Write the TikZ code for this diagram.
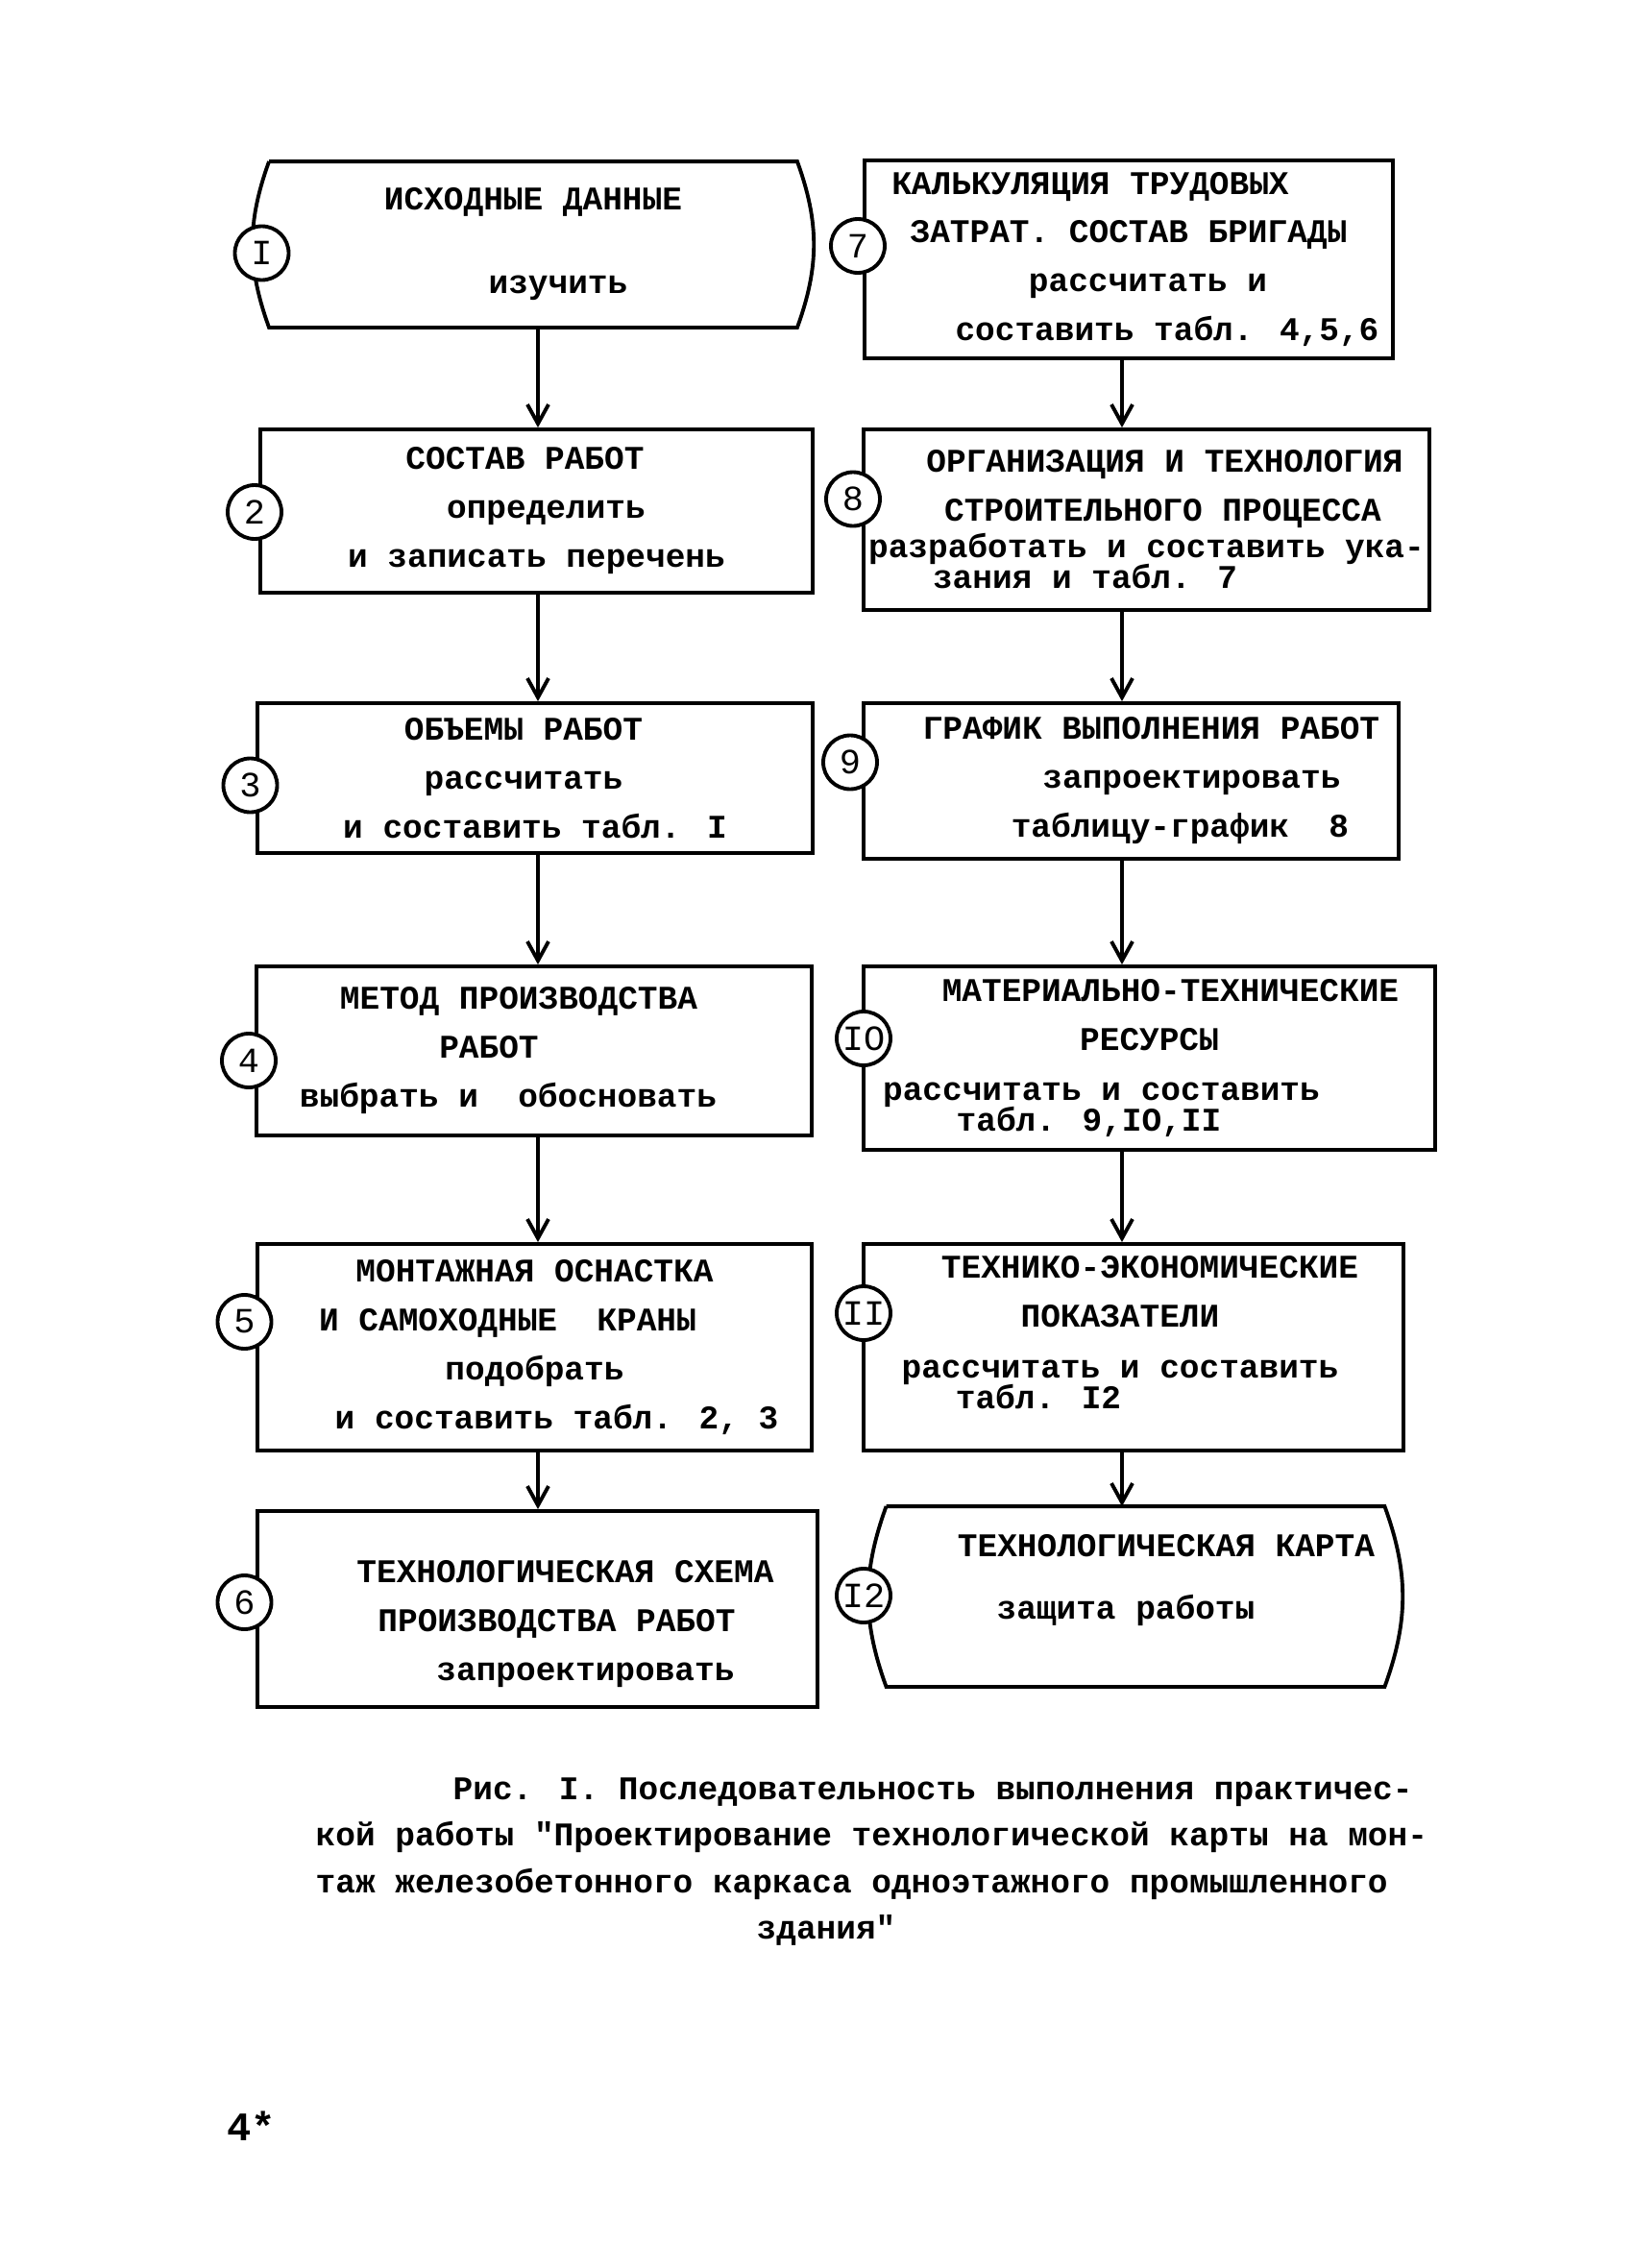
\documentclass[tikz,border=0pt]{standalone}
\usepackage{fontspec}
\setmainfont{Liberation Mono}
\usepackage{tikz}
\usetikzlibrary{arrows.meta}

% shift one line of a centred node sideways by #1
\newcommand{\sh}[2]{\hspace*{2\dimexpr#1\relax}#2}

\begin{document}
\begin{tikzpicture}[
  stage/.style={draw, line width=1.1pt, inner sep=0pt, align=center,
    font=\bfseries\fontsize{9.8}{14.5}\selectfont},
  term/.style={stage, draw=none},
  num/.style={circle, draw, fill=white, line width=1.1pt, inner sep=0pt,
    minimum size=0.56cm, font=\fontsize{10.5}{10}\selectfont},
  flow/.style={line width=1.1pt, -{Straight Barb[length=2mm,width=2.2mm]}},
  edge/.style={line width=1.1pt}
]
\path[fill=white,use as bounding box] (0,0) rectangle (17.01,-23.61);

\coordinate (lcol) at (5.60,0);
\coordinate (rcol) at (11.68,0);

% left column
\node[term, minimum width=5.46cm, minimum height=1.69cm] (b1) at (5.55,-2.545)
  {ИСХОДНЫЕ ДАННЫЕ\\[0.36cm]\sh{0.26cm}{изучить}};
\draw[edge] (b1.north west) -- (b1.north east) to[bend left=20] (b1.south east)
  -- (b1.south west) to[bend left=20] (b1.north west);
\node[stage, minimum width=5.75cm, minimum height=1.70cm] (b2) at (5.585,-5.32)
  {\sh{-0.12cm}{СОСТАВ РАБОТ}\\\sh{0.1cm}{определить}\\и записать перечень};
\node[stage, minimum width=5.78cm, minimum height=1.56cm] (b3) at (5.57,-8.10)
  {\sh{-0.12cm}{ОБЪЕМЫ РАБОТ}\\\sh{-0.12cm}{рассчитать}\\и составить табл. I};
\node[stage, minimum width=5.78cm, minimum height=1.76cm] (b4) at (5.56,-10.94)
  {\sh{-0.16cm}{МЕТОД ПРОИЗВОДСТВА}\\\sh{-0.47cm}{РАБОТ}\\\sh{-0.27cm}{выбрать и\ \ обосновать}};
\node[stage, minimum width=5.77cm, minimum height=2.15cm] (b5) at (5.565,-14.025)
  {МОНТАЖНАЯ ОСНАСТКА\\\sh{-0.28cm}{И САМОХОДНЫЕ\ \ КРАНЫ}\\подобрать\\\sh{0.23cm}{и составить табл. 2, 3}};
\node[stage, minimum width=5.83cm, minimum height=2.04cm] (b6) at (5.595,-16.75)
  {\rule{0pt}{0.55cm}\sh{0.29cm}{ТЕХНОЛОГИЧЕСКАЯ СХЕМА}\\\sh{0.2cm}{ПРОИЗВОДСТВА РАБОТ}\\\sh{0.5cm}{запроектировать}};

% right column
\node[stage, minimum width=5.50cm, minimum height=2.06cm] (b7) at (11.75,-2.70)
  {\sh{-0.4cm}{КАЛЬКУЛЯЦИЯ ТРУДОВЫХ}\\ЗАТРАТ. СОСТАВ БРИГАДЫ\\\sh{0.2cm}{рассчитать и}\\\sh{0.4cm}{составить табл. 4,5,6}};
\node[stage, minimum width=5.89cm, minimum height=1.88cm] (b8) at (11.935,-5.41)
  {\sh{0.19cm}{ОРГАНИЗАЦИЯ И ТЕХНОЛОГИЯ}\\\sh{0.17cm}{СТРОИТЕЛЬНОГО ПРОЦЕССА}\\[-0.13cm]разработать и составить ука-\\[-0.19cm]\sh{-0.64cm}{зания и табл. 7}};
\node[stage, minimum width=5.57cm, minimum height=1.62cm] (b9) at (11.775,-8.13)
  {\sh{0.21cm}{ГРАФИК ВЫПОЛНЕНИЯ РАБОТ}\\\sh{0.63cm}{запроектировать}\\\sh{0.51cm}{таблицу-график\ \ 8}};
\node[stage, minimum width=5.95cm, minimum height=1.91cm] (b10) at (11.965,-11.015)
  {\sh{0.22cm}{МАТЕРИАЛЬНО-ТЕХНИЧЕСКИЕ}\\РЕСУРСЫ\\[0.02cm]\sh{-0.5cm}{рассчитать и составить}\\[-0.19cm]\sh{-0.63cm}{табл. 9,IO,II}};
\node[stage, minimum width=5.62cm, minimum height=2.15cm] (b11) at (11.80,-14.025)
  {\sh{0.17cm}{ТЕХНИКО-ЭКОНОМИЧЕСКИЕ}\\\sh{-0.14cm}{ПОКАЗАТЕЛИ}\\[0.02cm]\sh{-0.14cm}{рассчитать и составить}\\[-0.19cm]\sh{-0.99cm}{табл. I2}\\[-0.2cm]};
\node[term, minimum width=5.15cm, minimum height=1.84cm] (b12) at (11.82,-16.62)
  {\sh{0.32cm}{ТЕХНОЛОГИЧЕСКАЯ КАРТА}\\[0.14cm]\sh{-0.1cm}{защита работы}\\[-0.1cm]};
\draw[edge] (b12.north west) -- (b12.north east) to[bend left=20] (b12.south east)
  -- (b12.south west) to[bend left=20] (b12.north west);

\foreach \a/\b/\c in {b1/b2/lcol,b2/b3/lcol,b3/b4/lcol,b4/b5/lcol,b5/b6/lcol,
  b7/b8/rcol,b8/b9/rcol,b9/b10/rcol,b10/b11/rcol,b11/b12/rcol}
  \draw[flow] (\a.south -| \c) -- (\b.north -| \c);

% step numbers
\foreach \n/\x/\y/\t in {1/2.725/-2.635/I,2/2.65/-5.33/2,3/2.605/-8.175/3,
  4/2.59/-11.04/4,5/2.545/-13.76/5,6/2.545/-16.68/6,7/8.93/-2.56/7,
  8/8.88/-5.195/8,9/8.85/-7.935/9,10/8.99/-10.81/IO,11/8.99/-13.67/II,
  12/8.99/-16.61/I2}
  \node[num] (c\n) at (\x,\y) {\t};

\node[anchor=north west, align=left, inner sep=0pt,
  font=\bfseries\fontsize{9.8}{13.8}\selectfont] (cap) at (3.28,-18.50)
  {\hspace*{1.43cm}Рис. I. Последовательность выполнения практичес-\\
   кой работы \textquotedbl Проектирование технологической карты на мон-\\
   таж железобетонного каркаса одноэтажного промышленного\\
   \hspace*{4.59cm}здания\textquotedbl};

\node[font=\bfseries\fontsize{12}{12}\selectfont] (pg) at (2.62,-22.13) {4*};
\end{tikzpicture}
\end{document}
